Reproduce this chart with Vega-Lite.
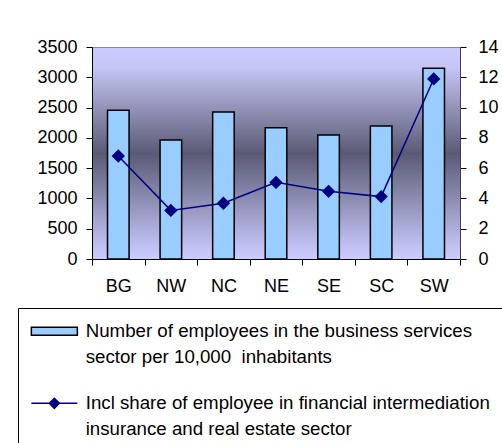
{
  "$schema": "https://vega.github.io/schema/vega-lite/v6.json",
  "width": 368,
  "height": 212,
  "autosize": {"type": "none"},
  "padding": {"left": 92, "top": 47, "right": 42, "bottom": 184},
  "background": "white",
  "data": {
    "values": [
      {"region": "BG", "employees": 2455, "share": 6.8},
      {"region": "NW", "employees": 1965, "share": 3.21},
      {"region": "NC", "employees": 2427, "share": 3.68},
      {"region": "NE", "employees": 2168, "share": 5.06},
      {"region": "SE", "employees": 2047, "share": 4.47},
      {"region": "SC", "employees": 2196, "share": 4.12},
      {"region": "SW", "employees": 3148, "share": 11.89}
    ]
  },
  "transform": [{"fold": ["employees", "share"], "as": ["series", "value"]}],
  "encoding": {
    "x": {
      "field": "region",
      "type": "nominal",
      "sort": null,
      "scale": {"paddingInner": 0, "paddingOuter": 0},
      "axis": {
        "title": null,
        "labelAngle": 0,
        "tickBand": "extent",
        "tickSize": 6,
        "labelPadding": 12,
        "domainColor": "#000000",
        "tickColor": "#000000"
      }
    }
  },
  "layer": [
    {
      "transform": [{"filter": "datum.series === 'employees'"}],
      "mark": {"type": "bar", "width": {"band": 0.41}, "strokeWidth": 1.5},
      "encoding": {
        "y": {
          "field": "value",
          "type": "quantitative",
          "scale": {"domain": [0, 3500], "nice": false},
          "axis": {
            "title": null,
            "orient": "left",
            "format": "d",
            "values": [0, 500, 1000, 1500, 2000, 2500, 3000, 3500],
            "tickSize": 6,
            "labelPadding": 9,
            "grid": false,
            "domainColor": "#000000",
            "tickColor": "#000000"
          }
        },
        "fill": {
          "field": "series",
          "type": "nominal",
          "scale": {"domain": ["employees", "share"], "range": ["#99ccff", "#000080"]},
          "legend": {
            "title": null,
            "labelExpr": "datum.value === 'employees' ? ['Number of employees in the business services', 'sector per 10,000\u00a0 inhabitants'] : ['Incl share of employee in financial intermediation', 'insurance and real estate sector']",
            "encoding": {"labels": {"lineHeight": {"value": 26}}}
          }
        },
        "stroke": {
          "field": "series",
          "type": "nominal",
          "scale": {"domain": ["employees", "share"], "range": ["#000000", "#000080"]},
          "legend": {
            "title": null,
            "labelExpr": "datum.value === 'employees' ? ['Number of employees in the business services', 'sector per 10,000\u00a0 inhabitants'] : ['Incl share of employee in financial intermediation', 'insurance and real estate sector']",
            "encoding": {"labels": {"lineHeight": {"value": 26}}}
          }
        }
      }
    },
    {
      "transform": [{"filter": "datum.series === 'share'"}],
      "encoding": {
        "y": {
          "field": "value",
          "type": "quantitative",
          "scale": {"domain": [0, 14], "nice": false},
          "axis": {
            "title": null,
            "orient": "right",
            "values": [0, 2, 4, 6, 8, 10, 12, 14],
            "tickSize": 6,
            "labelPadding": 12,
            "grid": false,
            "domainColor": "#404040",
            "tickColor": "#000000"
          }
        },
        "stroke": {
          "field": "series",
          "type": "nominal",
          "legend": {
            "title": null,
            "labelExpr": "datum.value === 'employees' ? ['Number of employees in the business services', 'sector per 10,000\u00a0 inhabitants'] : ['Incl share of employee in financial intermediation', 'insurance and real estate sector']",
            "encoding": {"labels": {"lineHeight": {"value": 26}}}
          }
        }
      },
      "layer": [
        {"mark": {"type": "line", "strokeWidth": 1.5}},
        {
          "mark": {"type": "point", "shape": "diamond", "filled": true, "size": 110, "opacity": 1},
          "encoding": {
            "fill": {
              "field": "series",
              "type": "nominal",
              "legend": {
                "title": null,
                "labelExpr": "datum.value === 'employees' ? ['Number of employees in the business services', 'sector per 10,000\u00a0 inhabitants'] : ['Incl share of employee in financial intermediation', 'insurance and real estate sector']",
                "encoding": {"labels": {"lineHeight": {"value": 26}}}
              }
            }
          }
        },
        {
          "mark": {"type": "point", "filled": true, "opacity": 0, "strokeWidth": 1.5},
          "encoding": {
            "shape": {
              "field": "series",
              "type": "nominal",
              "scale": {
                "domain": ["employees", "share"],
                "range": ["M-2,-0.8H7.2V0.8H-2Z", "M-2,0H7.2M1.6,0L2.6,-1L3.6,0L2.6,1Z"]
              },
              "legend": {
                "title": null,
                "labelExpr": "datum.value === 'employees' ? ['Number of employees in the business services', 'sector per 10,000\u00a0 inhabitants'] : ['Incl share of employee in financial intermediation', 'insurance and real estate sector']",
                "encoding": {"labels": {"lineHeight": {"value": 26}}}
              }
            },
            "fill": {"field": "series", "type": "nominal"}
          }
        }
      ]
    }
  ],
  "resolve": {"scale": {"y": "independent"}},
  "config": {
    "font": "Liberation Sans",
    "view": {
      "stroke": "#8a8a8a",
      "fill": {
        "gradient": "linear",
        "x1": 0, "y1": 0, "x2": 0, "y2": 1,
        "stops": [
          {"offset": 0, "color": "#ccccff"},
          {"offset": 0.1, "color": "#c4c4f4"},
          {"offset": 0.5, "color": "#5a5a74"},
          {"offset": 0.9, "color": "#b8b8e8"},
          {"offset": 1, "color": "#ccccff"}
        ]
      }
    },
    "axis": {
      "labelFont": "Liberation Sans",
      "labelFontSize": 18,
      "labelColor": "#000000",
      "domainWidth": 1,
      "tickWidth": 1
    },
    "legend": {
      "orient": "none",
      "legendX": -74,
      "legendY": 261,
      "padding": 14,
      "strokeColor": "#000000",
      "fillColor": "#ffffff",
      "symbolSize": 100,
      "symbolStrokeWidth": 1.5,
      "symbolOpacity": 1,
      "labelOffset": 35,
      "labelLimit": 0,
      "rowPadding": 26,
      "labelFont": "Liberation Sans",
      "labelFontSize": 18.7,
      "labelColor": "#000000"
    }
  }
}
